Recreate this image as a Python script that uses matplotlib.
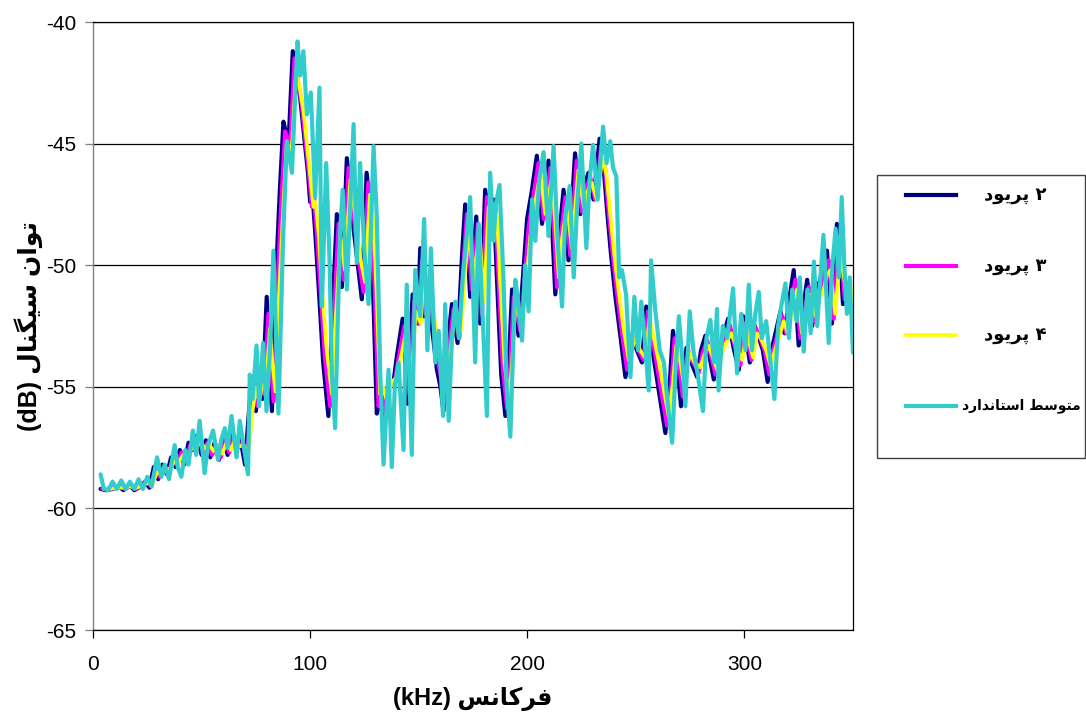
import unicodedata
import matplotlib
matplotlib.use("Agg")
import matplotlib.pyplot as plt
from matplotlib.lines import Line2D
from matplotlib.patches import Rectangle

plt.rcParams['axes.unicode_minus'] = False

# ---------------- data ----------------
freq_p2 = [3.5, 6, 9, 12, 14, 17, 19, 22, 24, 26, 28, 30, 32, 34, 36, 38, 40, 42, 44, 46, 48, 50,
           52, 54, 56, 58, 60, 62, 64, 66, 68, 70, 72, 73.5, 75, 76.5, 78, 80, 81, 82.4, 84, 86,
           87.7, 89, 90, 92, 93.5, 95.4, 97, 99, 100, 101, 102.3, 104, 106, 108.4, 110, 112.3,
           114.6, 116.9, 118.5, 120, 122, 123.8, 126, 127.5, 129, 130.7, 132, 134, 136, 138.4,
           140, 142.6, 144.9, 147.2, 149.5, 150.7, 152.4, 154, 156, 158.4, 160, 161.4, 163,
           165.3, 167.9, 170, 171.4, 173.7, 176.5, 178.3, 180.6, 182.9, 184.5, 186, 188, 189.9,
           191.5, 193, 196, 198, 199.9, 202, 204.4, 206.8, 209.8, 211.5, 212.9, 214.5, 216.7,
           219, 222, 224.4, 226, 228.2, 230.5, 233.3, 235, 236.7, 238.5, 240.6, 243, 245.2,
           248.2, 250.5, 252.8, 254.8, 256.8, 258.9, 261.3, 263.6, 265.5, 267.1, 269, 270.8,
           273.3, 275.5, 278.2, 280, 282, 284, 285.9, 288, 290, 292.5, 295, 297.4, 299.4, 300.8,
           302.5, 304.3, 306, 308.5, 310.7, 312.5, 314.3, 316.6, 318.5, 320.5, 322.7, 325, 327,
           328.9, 331.2, 333, 335, 336.5, 338, 340.3, 342.6, 344, 345.4, 347.5, 350]
power_p2 = [-59.2, -59.25, -59.2, -59.1, -59.25, -59.05, -59.25, -59.1, -58.9, -59.15, -58.3,
            -58.8, -58.2, -58.6, -57.9, -58.3, -57.6, -58.2, -57.3, -57.6, -57.0, -57.8, -57.2,
            -57.9, -57.3, -58.0, -57.1, -57.8, -56.9, -57.5, -57.2, -58.2, -55.8, -54.6, -56.0,
            -54.5, -55.5, -51.3, -53.5, -56.0, -51.0, -47.0, -44.1, -44.6, -45.1, -41.2, -42.2,
            -43.1, -44.5, -46.2, -47.4, -47.0, -48.6, -51.0, -54.0, -56.2, -52.5, -47.9, -50.9,
            -45.6, -47.0, -48.5, -50.0, -51.4, -46.2, -47.5, -51.0, -56.1, -55.5, -56.5, -55.0,
            -54.8, -53.7, -52.2, -55.7, -51.2, -52.4, -49.3, -52.1, -51.0, -52.5, -54.3, -55.0,
            -56.0, -53.5, -51.6, -53.2, -49.5, -47.5, -51.3, -48.0, -52.4, -46.9, -48.4, -47.3,
            -50.5, -54.5, -56.2, -54.0, -51.0, -52.9, -50.5, -48.1, -47.0, -45.5, -48.3, -45.7,
            -48.5, -51.2, -49.0, -46.9, -49.8, -45.4, -47.9, -46.8, -46.2, -47.3, -44.8, -45.8,
            -47.7, -49.5, -51.3, -53.0, -54.6, -52.9, -53.5, -54.0, -51.7, -53.0, -54.2, -55.6,
            -56.9, -55.0, -52.7, -54.0, -55.8, -53.4, -54.0, -54.6, -53.5, -52.9, -53.8, -54.7,
            -53.5, -53.0, -52.2, -53.4, -54.3, -52.1, -53.0, -54.0, -52.4, -52.8, -53.5, -54.8,
            -53.5, -52.8, -51.9, -52.8, -51.5, -50.2, -53.3, -51.8, -50.6, -52.5, -51.0, -50.6,
            -49.7, -49.4, -52.4, -48.3, -49.5, -51.6, -51.0, -52.2]

freq_p3 = [4.3, 6.8, 9.8, 12.8, 14.8, 17.8, 19.8, 22.8, 24.8, 26.8, 28.8, 30.8, 32.8, 34.8, 36.8,
           38.8, 40.8, 42.8, 44.8, 46.8, 48.8, 50.8, 52.8, 54.8, 56.8, 58.8, 60.8, 62.8, 64.8,
           66.8, 68.8, 70.8, 72.8, 74.3, 75.8, 77.3, 78.8, 80.8, 81.8, 83.2, 84.8, 86.8, 88.5,
           89.8, 90.8, 92.8, 94.3, 96.2, 97.8, 99.8, 100.8, 101.8, 103.1, 104.8, 106.8, 109.2,
           110.8, 113.1, 115.4, 117.7, 119.3, 120.8, 122.8, 124.6, 126.8, 128.3, 129.8, 131.5,
           132.8, 134.8, 136.8, 139.2, 140.8, 143.4, 145.7, 148, 150.3, 151.5, 153.2, 154.8,
           156.8, 159.2, 160.8, 162.2, 163.8, 166.1, 168.7, 170.8, 172.2, 174.5, 177.3, 179.1,
           181.4, 183.7, 185.3, 186.8, 188.8, 190.7, 192.3, 193.8, 196.8, 198.8, 200.7, 202.8,
           205.2, 207.6, 210.6, 212.3, 213.7, 215.3, 217.5, 219.8, 222.8, 225.2, 226.8, 229,
           231.3, 234.1, 235.8, 237.5, 239.3, 241.4, 243.8, 246, 249, 251.3, 253.6, 255.6,
           257.6, 259.7, 262.1, 264.4, 266.3, 267.9, 269.8, 271.6, 274.1, 276.3, 279, 280.8,
           282.8, 284.8, 286.7, 288.8, 290.8, 293.3, 295.8, 298.2, 300.2, 301.6, 303.3, 305.1,
           306.8, 309.3, 311.5, 313.3, 315.1, 317.4, 319.3, 321.3, 323.5, 325.8, 327.8, 329.7,
           332, 333.8, 335.8, 337.3, 338.8, 341.1, 343.4, 344.8, 346.2, 348.3, 350]
power_p3 = [-59.2, -59.2, -59.15, -59.1, -59.2, -59.05, -59.2, -59.05, -58.9, -59.1, -58.4,
            -58.7, -58.3, -58.5, -58.0, -58.2, -57.7, -58.1, -57.4, -57.6, -57.1, -57.7, -57.3,
            -57.8, -57.4, -57.9, -57.2, -57.7, -57.0, -57.5, -57.3, -58.0, -55.9, -54.8, -55.8,
            -54.7, -55.3, -52.0, -53.8, -55.6, -51.3, -47.3, -44.5, -44.9, -45.2, -41.5, -42.4,
            -43.4, -44.8, -46.5, -47.6, -47.2, -48.7, -51.0, -53.8, -55.8, -52.5, -48.3, -50.6,
            -46.0, -47.2, -48.6, -50.0, -51.1, -46.6, -47.8, -51.0, -55.8, -55.3, -56.1, -54.9,
            -54.7, -53.8, -52.5, -55.3, -51.5, -52.4, -49.8, -52.0, -51.1, -52.4, -54.1, -54.8,
            -55.7, -53.5, -51.8, -53.0, -49.8, -47.9, -51.0, -48.3, -52.0, -47.2, -48.5, -47.6,
            -50.6, -54.3, -55.9, -54.0, -51.3, -52.7, -50.6, -48.4, -47.2, -45.8, -48.1, -46.0,
            -48.5, -50.9, -49.0, -47.2, -49.6, -45.7, -47.8, -46.9, -46.4, -47.3, -45.1, -46.0,
            -47.8, -49.5, -51.2, -52.9, -54.3, -53.0, -53.5, -53.9, -51.9, -53.0, -54.1, -55.4,
            -56.6, -55.0, -53.0, -54.0, -55.4, -53.5, -54.0, -54.4, -53.6, -53.1, -53.8, -54.5,
            -53.6, -53.1, -52.5, -53.4, -54.1, -52.4, -53.1, -53.9, -52.6, -52.9, -53.5, -54.5,
            -53.5, -52.9, -52.1, -52.8, -51.7, -50.6, -53.0, -51.9, -50.9, -52.3, -51.2, -50.8,
            -50.0, -49.8, -52.2, -48.9, -49.9, -51.4, -51.0, -51.9]

freq_p4 = [5, 8, 11, 14, 17, 20, 23, 25.5, 27.5, 29.5, 31.5, 33.5, 35.5, 37.5, 39.5, 41.5, 43.5,
           45.5, 47.5, 49.5, 51.5, 53.5, 55.5, 57.5, 59.5, 61.5, 63.5, 65.5, 67.5, 69.5, 71.5,
           73.5, 75, 76.5, 78, 79.5, 81.5, 82.5, 84, 85.5, 87.5, 89.2, 90.5, 91.5, 93.5, 95, 97,
           98.5, 100.5, 101.5, 102.5, 104, 105.5, 107.5, 110, 111.5, 114, 116, 118.5, 120,
           121.5, 123.5, 125.3, 127.5, 129, 130.5, 132.2, 133.5, 135.5, 137.5, 140, 141.5, 144,
           146.5, 148.7, 151, 152.2, 154, 155.5, 157.5, 160, 161.5, 163, 164.5, 166.8, 169.5,
           171.5, 173, 175.2, 178, 180, 182.2, 184.5, 186, 187.5, 189.5, 191.5, 193, 194.5,
           197.5, 199.5, 201.4, 203.5, 206, 208.3, 211.3, 213, 214.5, 216, 218.3, 220.5, 223.5,
           226, 227.5, 229.7, 232, 234.8, 236.5, 238.2, 240, 242.1, 244.5, 246.7, 249.7, 252,
           254.3, 256.3, 258.3, 260.4, 262.8, 265.1, 267, 268.6, 270.5, 272.3, 274.8, 277,
           279.7, 281.5, 283.5, 285.5, 287.4, 289.5, 291.5, 294, 296.5, 299, 301, 302.3, 304,
           305.8, 307.5, 310, 312.2, 314, 315.8, 318.1, 320, 322, 324.2, 326.5, 328.5, 330.4,
           332.7, 334.5, 336.5, 338, 339.5, 341.8, 344.1, 345.5, 347, 349, 350]
power_p4 = [-59.2, -59.2, -59.15, -59.15, -59.1, -59.15, -59.05, -58.95, -59.0, -58.5, -58.6,
            -58.35, -58.4, -58.05, -58.1, -57.8, -57.95, -57.5, -57.55, -57.2, -57.55, -57.35,
            -57.65, -57.45, -57.75, -57.3, -57.6, -57.15, -57.45, -57.4, -57.8, -56.0, -55.0,
            -55.6, -54.9, -55.1, -52.6, -53.9, -55.2, -51.6, -47.8, -45.0, -45.2, -45.3, -42.0,
            -42.6, -43.7, -45.0, -46.7, -47.6, -47.4, -48.8, -51.0, -53.4, -55.3, -52.6, -48.8,
            -50.2, -46.5, -47.4, -48.7, -49.9, -50.7, -47.1, -48.1, -50.9, -55.3, -55.0, -55.6,
            -54.8, -54.6, -53.9, -52.8, -54.8, -51.9, -52.4, -50.3, -51.9, -51.2, -52.3, -53.9,
            -54.5, -55.2, -53.5, -52.0, -52.7, -50.2, -48.5, -50.6, -48.6, -51.5, -47.6, -48.6,
            -47.9, -50.7, -54.0, -55.5, -54.0, -51.6, -52.4, -50.7, -48.8, -47.5, -46.2, -47.9,
            -46.4, -48.4, -50.5, -48.9, -47.5, -49.3, -46.1, -47.6, -47.0, -46.6, -47.3, -45.5,
            -46.3, -47.9, -49.5, -51.1, -52.7, -53.9, -53.0, -53.5, -53.8, -52.2, -53.0, -53.9,
            -55.1, -56.2, -54.9, -53.3, -54.0, -55.0, -53.6, -54.0, -54.2, -53.7, -53.3, -53.8,
            -54.3, -53.7, -53.2, -52.8, -53.4, -53.9, -52.7, -53.2, -53.8, -52.8, -53.0, -53.5,
            -54.2, -53.5, -53.0, -52.3, -52.8, -51.9, -51.0, -52.8, -52.0, -51.2, -52.1, -51.4,
            -51.0, -50.4, -50.2, -52.0, -49.5, -50.3, -51.2, -50.9, -51.5]

freq_std = [3.5, 5, 7, 9, 11, 13, 15, 17, 19, 21, 23, 25, 27, 29.5, 31.5, 33, 35, 37.6, 39,
            40.7, 42.5, 44, 46, 47.5, 49.1, 51.4, 53, 55.3, 57.6, 59, 60.7, 62, 63.8, 66.1,
            67.6, 69.5, 71.4, 72.2, 73.5, 75.3, 76.5, 78.3, 79.9, 81.5, 83.1, 85.4, 87.5, 89.3,
            91.6, 94.2, 95.4, 96.9, 98.5, 100.3, 102.3, 104.3, 105.4, 107.4, 109, 110, 111.5,
            113.8, 115, 116.9, 118.5, 120, 121.5, 123, 125, 126.9, 129.2, 130.7, 132.3, 133.8,
            136.1, 137.6, 139, 140.7, 143, 144.5, 146.8, 148.4, 150.7, 152.5, 154, 155.6, 157.6,
            159.2, 161.2, 162.2, 163.8, 165.3, 166.9, 168.5, 170.3, 172.1, 173.7, 176, 177.6,
            179.6, 181.4, 182.9, 184.5, 185.5, 187.2, 189, 190.5, 192.2, 194.5, 195.8, 197.6,
            199, 200.6, 202.2, 203.7, 205.5, 207.5, 209.8, 212.1, 214, 216, 217.5, 219.5, 221.4,
            223, 224.9, 227.2, 228.7, 230.3, 232.4, 234.9, 236.5, 238.2, 239.5, 241, 242.3,
            243.6, 245.5, 247.5, 249.3, 251, 252.5, 254, 255.9, 257, 259, 261, 262.9, 264.5,
            266.7, 268.2, 269.8, 271.5, 272.8, 274.8, 276.5, 278.5, 280.9, 282.5, 284.3, 286,
            287.4, 288.1, 290, 292, 294.8, 296.6, 298.5, 300.5, 302, 303.5, 305, 306.6, 308, 310,
            312, 313.8, 315.5, 317.3, 318.9, 320.5, 322, 324, 325.5, 327.3, 329, 330.5, 332,
            333.5, 335, 336.4, 338.8, 340.5, 342, 343.5, 344.8, 346, 347.2, 348.5, 350]
power_std = [-58.6, -59.2, -59.25, -58.9, -59.2, -58.85, -59.2, -58.9, -59.2, -58.8, -59.2,
             -58.7, -59.1, -57.9, -58.7, -58.2, -58.8, -57.4, -58.3, -58.7, -57.6, -58.2, -56.8,
             -57.8, -56.4, -58.55, -57.4, -56.8, -58.0, -57.2, -56.7, -57.5, -56.2, -57.9, -56.4,
             -57.5, -58.6, -54.5, -55.5, -53.3, -55.8, -53.2, -56.0, -53.5, -49.4, -56.1, -49.0,
             -44.9, -46.2, -40.8, -42.2, -41.2, -43.8, -42.9, -47.2, -42.7, -51.7, -45.8, -50.0,
             -54.5, -56.7, -48.6, -46.9, -51.0, -47.5, -44.2, -49.9, -45.8, -49.5, -51.6, -45.1,
             -48.0, -54.5, -58.2, -54.3, -58.3, -55.0, -54.0, -57.6, -50.8, -57.8, -50.2, -52.1,
             -48.1, -53.5, -49.3, -54.0, -52.7, -56.2, -51.6, -56.4, -53.0, -51.5, -53.0, -50.5,
             -48.8, -47.2, -54.0, -48.3, -52.5, -56.2, -46.2, -49.0, -47.5, -46.7, -50.5, -55.0,
             -57.05, -50.6, -51.5, -53.1, -50.0, -51.9, -47.3, -49.0, -46.5, -45.35, -48.8,
             -45.1, -49.0, -51.7, -48.0, -46.75, -50.5, -47.5, -45.0, -49.3, -46.5, -45.05,
             -47.3, -44.3, -45.8, -44.9, -46.0, -46.35, -50.5, -50.2, -51.2, -54.6, -51.3,
             -53.5, -51.5, -53.0, -55.15, -49.8, -51.9, -53.5, -54.0, -55.5, -57.3, -54.5,
             -52.1, -54.0, -55.8, -51.9, -53.5, -54.5, -56.0, -53.0, -52.25, -54.0, -51.8,
             -55.15, -52.5, -53.0, -50.95, -54.45, -52.0, -53.5, -50.8, -53.5, -52.0, -51.1,
             -53.0, -52.3, -54.0, -55.5, -52.5, -51.5, -50.75, -53.0, -51.0, -52.3, -50.5,
             -53.55, -51.0, -52.8, -49.85, -52.5, -50.5, -48.75, -53.2, -50.0, -48.5, -50.5,
             -47.2, -50.0, -52.0, -50.5, -53.6]

series_labels = ["۲ پریود", "۳ پریود", "۴ پریود", "متوسط استاندارد"]
series_colors = ["#000080", "#FF00FF", "#FFFF00", "#33CCCC"]
y_label_fa = "توان سیگنال"
x_label_fa = "فرکانس"
y_ticks = [-65, -60, -55, -50, -45, -40]
x_ticks = [0, 100, 200, 300]


# ---------------- simple Arabic-script shaping (visual order) ----------------
RIGHT_JOIN = set("اآأإدذرزژو")


def _is_ar_letter(c):
    return c is not None and "\u0620" <= c <= "\u06FF" and unicodedata.category(c) == "Lo"


def shape(text):
    out = []
    for i, c in enumerate(text):
        if not _is_ar_letter(c):
            out.append(c)
            continue
        prev = text[i - 1] if i > 0 else None
        nxt = text[i + 1] if i + 1 < len(text) else None
        jp = _is_ar_letter(prev) and prev not in RIGHT_JOIN
        jn = _is_ar_letter(nxt) and c not in RIGHT_JOIN
        form = "MEDIAL" if (jp and jn) else "FINAL" if jp else "INITIAL" if jn else "ISOLATED"
        try:
            out.append(unicodedata.lookup(unicodedata.name(c) + " " + form + " FORM"))
        except KeyError:
            out.append(c)
    return "".join(out)


def rtl(text):
    return shape(text)[::-1]


# ---------------- figure ----------------
W, H = 1086, 719
fig = plt.figure(figsize=(W / 100, H / 100), dpi=100)
ax = fig.add_axes([93 / W, 1 - 630 / H, 760 / W, 608 / H])

widths = [3.0, 3.0, 2.6, 3.0]
all_series = [(freq_p2, power_p2), (freq_p3, power_p3), (freq_p4, power_p4), (freq_std, power_std)]
lines = []
for (fx, py), col, lw in zip(all_series, series_colors, widths):
    ln, = ax.plot(fx, py, color=col, lw=lw, solid_joinstyle='round', solid_capstyle='round', zorder=3)
    lines.append(ln)

ax.set_xlim(0, 350)
ax.set_ylim(-65, -40)
ax.set_xticks(x_ticks)
ax.set_yticks(y_ticks)
ax.yaxis.grid(True, color='black', lw=0.9)
ax.set_axisbelow(True)
for s in ['top', 'right', 'bottom']:
    ax.spines[s].set_color('black')
    ax.spines[s].set_linewidth(0.9)
ax.spines['left'].set_color('#808080')
ax.spines['left'].set_linewidth(1.0)
ax.tick_params(axis='y', direction='out', length=6, width=0.9, color='#808080', pad=6,
               labelsize=15)
ax.tick_params(axis='x', direction='out', length=6, width=0.9, color='black', pad=12,
               labelsize=15)
for lab in ax.get_xticklabels() + ax.get_yticklabels():
    lab.set_fontfamily('Liberation Sans')

ax.set_ylabel("(dB) " + rtl(y_label_fa), family=['Liberation Sans', 'DejaVu Sans'],
              weight='bold', size=18, labelpad=2)
ax.set_xlabel("(kHz) " + rtl(x_label_fa), family=['Liberation Sans', 'DejaVu Sans'],
              weight='bold', size=17, labelpad=9)

# ---------------- legend (drawn in figure pixels) ----------------
def fx_(px):
    return px / W


def fy_(py):
    return 1 - py / H


fig.add_artist(Rectangle((fx_(877), fy_(458)), fx_(1085) - fx_(877), fy_(175) - fy_(458),
                         transform=fig.transFigure, facecolor='white', edgecolor='#404040',
                         lw=1.0))
row_y = [195, 266, 335, 406]
row_right = [1047, 1047, 1047, 1081]
row_size = [13, 13, 13, 10]
for ln, lab, ry, rr, rs in zip(lines, series_labels, row_y, row_right, row_size):
    fig.add_artist(Line2D([fx_(906), fx_(956)], [fy_(ry), fy_(ry)], color=ln.get_color(),
                          lw=ln.get_linewidth(), transform=fig.transFigure))
    fig.text(fx_(rr), fy_(ry), rtl(lab), ha='right', va='center',
             family=['DejaVu Sans'], weight='bold', size=rs)

fig.savefig("out.png", dpi=100)
